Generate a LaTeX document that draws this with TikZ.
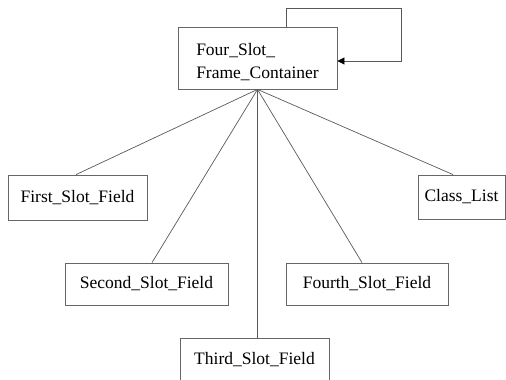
\documentclass[tikz,border=0pt]{standalone}
\usepackage{fontspec}
\setmainfont{Liberation Serif}
\usetikzlibrary{arrows.meta,calc}
\begin{document}
\begin{tikzpicture}[x=1pt,y=-1pt,
  box/.style={draw=black!60,line width=0.8pt,rectangle,inner sep=0pt,
    font=\fontsize{17.5}{23}\selectfont,text=black},
  conn/.style={draw=black!65,line width=0.7pt}]
\useasboundingbox (0,0) rectangle (506,380);
\clip (0,0) rectangle (506,380);
\node[box,minimum width=159,minimum height=62,align=left] (top) at (257.5,58) {\rule{0pt}{20pt}Four\_Slot\_\\Frame\_Container};
\node[box,minimum width=139,minimum height=45] (first) at (77.5,197.5) {First\_Slot\_Field};
\node[box,minimum width=163,minimum height=42] (second) at (146.5,284) {Second\_Slot\_Field};
\node[box,minimum width=162,minimum height=42] (fourth) at (367,284) {Fourth\_Slot\_Field};
\node[box,minimum width=87,minimum height=44] (classlist) at (461.5,197) {Class\_List};
\node[box,minimum width=149,minimum height=43] (third) at (254.5,360) {Third\_Slot\_Field};
\coordinate (hub) at (top.south);
\draw[conn] (hub) -- ([xshift=-1.5pt]first.north);
\draw[conn] (hub) -- ([xshift=5.5pt]second.north);
\draw[conn] (hub) -- (hub |- third.north);
\draw[conn] (hub) -- ([xshift=-5pt]fourth.north);
\draw[conn] (hub) -- ([xshift=-8.5pt]classlist.north);
\coordinate (loopstart) at (top.north -| 286,0);
\draw[conn,-{Triangle[length=7pt,width=7pt,color=black]}] (loopstart) -- (286,8) -- (401,8) -- (401,61) -- (top.east |- 0,61);
\end{tikzpicture}
\end{document}
